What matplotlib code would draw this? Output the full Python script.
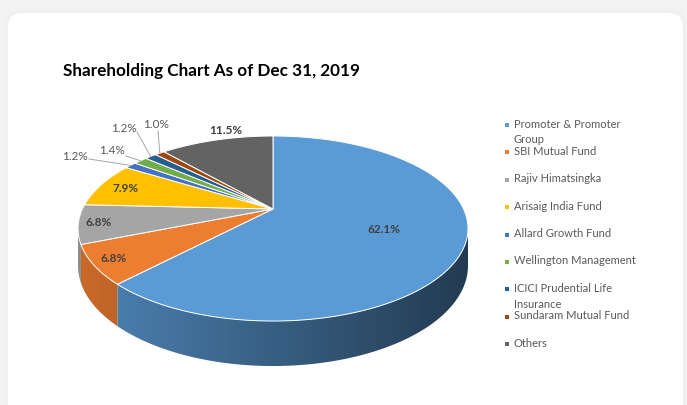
import numpy as np
import matplotlib.pyplot as plt
from matplotlib.patches import Polygon, FancyBboxPatch
from matplotlib.colors import to_rgb

plt.rcParams['font.family'] = ['Lato', 'DejaVu Sans']

title = 'Shareholding Chart As of Dec 31, 2019'
holders = ['Promoter & Promoter\nGroup', 'SBI Mutual Fund', 'Rajiv Himatsingka',
           'Arisaig India Fund', 'Allard Growth Fund', 'Wellington Management',
           'ICICI Prudential Life\nInsurance', 'Sundaram Mutual Fund', 'Others']
shares = [62.1, 6.8, 6.8, 7.9, 1.2, 1.4, 1.2, 1.0, 11.5]
colors = ['#5b9bd5', '#ed7d31', '#a5a5a5', '#ffc000', '#4472c4',
          '#70ad47', '#255e91', '#9e480e', '#636363']

# pie geometry in pixels, fake perspective like the excel 3d pie
CX, CY = 273, 209
A, B, P, H = 190.6, 88.4, 0.211, 35.5


def proj(t, f=1.0, z=0.0):
    u = f * np.cos(t)
    v = f * np.sin(t)
    d = 1 + P * v
    return CX + A * u / d, CY - B * v / d + z * H / d


fig = plt.figure(figsize=(6.87, 4.05), dpi=100)
fig.patch.set_facecolor('#f3f3f3')
ax = fig.add_axes([0, 0, 1, 1])
ax.axis('off')

# card with soft shadow
for k, a in [(6, 0.02), (4, 0.03), (2, 0.05)]:
    ax.add_patch(FancyBboxPatch((8 - k, 13 - k), 675 + 2 * k, 420,
                                boxstyle='round,pad=0,rounding_size=%d' % (14 + k),
                                fc='#d8d8d8', ec='none', alpha=a))
ax.add_patch(FancyBboxPatch((8, 13), 675, 420, boxstyle='round,pad=0,rounding_size=14',
                            fc='white', ec='none'))

total = sum(shares)
cum = np.concatenate([[0], np.cumsum(shares)]) / total
theta = np.radians(90 - 360 * cum)

# visible side of the pie, shaded darker to the right
xmin, xmax = CX - A * 1.023, CX + A * 1.023
front_lo, front_hi = np.radians(-168), np.radians(-12)
gx = np.linspace(xmin, xmax, 300)
fac = 0.85 - 0.47 * (gx - xmin) / (xmax - xmin)
for i, c in enumerate(colors):
    hi = min(theta[i], front_hi)
    lo = max(theta[i + 1], front_lo)
    if hi <= lo:
        continue
    ts = np.linspace(hi, lo, 150)
    tx, ty = proj(ts)
    bx, by = proj(ts, z=1)
    pts = list(zip(tx, ty)) + list(zip(bx[::-1], by[::-1]))
    side = Polygon(pts, closed=True, fc='none', ec='none')
    ax.add_patch(side)
    grad = np.array(to_rgb(c))[None, None, :] * fac[None, :, None]
    im = ax.imshow(grad, extent=(xmin, xmax, 400, 100), aspect='auto',
                   interpolation='bilinear', zorder=1)
    im.set_clip_path(side)

# top face
for i, c in enumerate(colors):
    ts = np.linspace(theta[i], theta[i + 1], 200)
    xs, ys = proj(ts)
    pts = [(CX, CY)] + list(zip(xs, ys))
    ax.add_patch(Polygon(pts, closed=True, fc=c, ec='white', lw=0.7, zorder=2))
ax.set_xlim(0, 687)
ax.set_ylim(405, 0)

# data labels
label_f = [0.6, 0.9, 0.9, 0.85, None, None, None, None, None]
callouts = {4: ((75, 157), (89, 159)), 5: ((112, 150), (126, 156)),
            6: ((124, 128), (137, 132)), 7: ((156, 125), (158, 131)),
            8: ((226, 131), None)}
for i, s in enumerate(shares):
    tm = (theta[i] + theta[i + 1]) / 2
    txt = '%.1f%%' % s
    if label_f[i] is not None:
        x, y = proj(tm, label_f[i])
        ax.text(x, y, txt, ha='center', va='center', fontsize=8.5, fontweight='bold',
                color='#404040', zorder=3)
    else:
        (x, y), start = callouts[i]
        if start is None:
            ax.text(x, y, txt, ha='center', va='center', fontsize=8.5, fontweight='bold',
                    color='#404040', zorder=3)
        else:
            ax.text(x, y, txt, ha='center', va='center', fontsize=8.5, color='#595959',
                    zorder=3)
            ex, ey = proj(tm)
            ax.plot([start[0], ex], [start[1], ey], color='#a6a6a6', lw=0.7, zorder=3)

ax.text(63, 71, title, fontsize=12.3, fontweight='bold', color='black', va='center')

# legend
for i, (name, c) in enumerate(zip(holders, colors)):
    y = 125 + 27.4 * i
    ax.scatter([507], [y], marker='s', s=11, color=c, linewidths=0, zorder=3)
    ax.text(514, y - 6.5, name, fontsize=8, color='#595959', va='top', linespacing=1.55)

fig.savefig('out.png', dpi=100, facecolor=fig.get_facecolor())
